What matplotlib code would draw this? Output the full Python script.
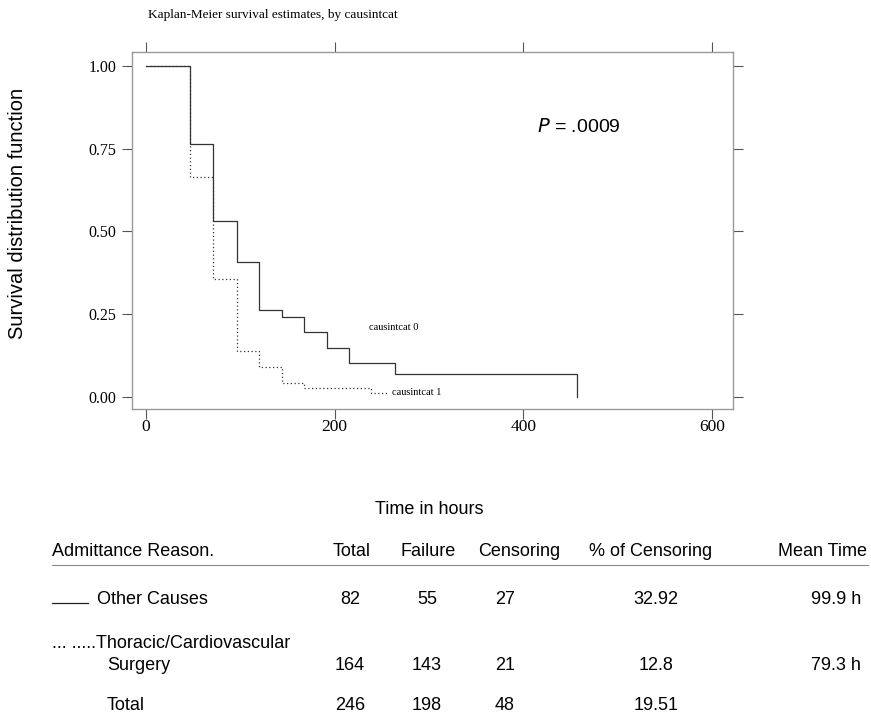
import matplotlib.pyplot as plt
from matplotlib.lines import Line2D

# Kaplan-Meier step curves
t_other = [0, 47, 71, 96, 120, 144, 167.5, 192, 215, 264, 456.5]
s_other = [1.00, 0.764, 0.532, 0.408, 0.263, 0.241, 0.197, 0.149, 0.102, 0.069, 0.0]
t_thor = [0, 47, 71, 96, 120, 144, 167.5, 238, 258]
s_thor = [1.00, 0.666, 0.356, 0.140, 0.092, 0.044, 0.026, 0.013, 0.013]

x_ticks = [0, 200, 400, 600]
y_ticks = [0.0, 0.25, 0.5, 0.75, 1.0]
y_labels = ["0.00", "0.25", "0.50", "0.75", "1.00"]

# summary table
headers = ["Admittance Reason.", "Total", "Failure", "Censoring", "% of Censoring", "Mean Time"]
row_total = ["82", "164", "246"]
row_failure = ["55", "143", "198"]
row_censor = ["27", "21", "48"]
row_pct = ["32.92", "12.8", "19.51"]
row_mean = ["99.9 h", "79.3 h", ""]

W, H = 871, 713
fig = plt.figure(figsize=(W / 100, H / 100), dpi=100)
ax = fig.add_axes([132 / W, 1 - 409 / H, (733 - 132) / W, (409 - 52) / H])

line_col = "#333333"
ax.step(t_other, s_other, where="post", color=line_col, lw=0.9)
ax.step(t_thor, s_thor, where="post", color=line_col, lw=0.9, linestyle=(0, (1, 2)))

ax.set_xlim(-14.8, 622)
ax.set_ylim(-0.036, 1.042)

serif = "Liberation Serif"
sans = "Liberation Sans"

ax.set_xticks(x_ticks)
ax.set_xticklabels([str(v) for v in x_ticks], fontfamily=serif, fontsize=12.5)
ax.set_yticks(y_ticks)
ax.set_yticklabels(y_labels, fontfamily=serif, fontsize=11.5)
ax.tick_params(direction="out", length=7, width=0.8, color="#555555",
               top=True, right=True, labeltop=False, labelright=False)
ax.tick_params(axis="x", pad=0)
ax.tick_params(axis="y", pad=4)
for sp in ax.spines.values():
    sp.set_color("#999999")
    sp.set_linewidth(1.0)

ax.text(236, 0.21, "causintcat 0", fontfamily=serif, fontsize=7.5, va="center")
ax.text(261, 0.013, "causintcat 1", fontfamily=serif, fontsize=7.5, va="center")
ax.text(414, 0.816, "$\\it{P}$ = .0009", fontfamily=sans, fontsize=14, va="center")

fig.text(148 / W, 1 - 15 / H, "Kaplan-Meier survival estimates, by causintcat",
         fontfamily=serif, fontsize=9.5, va="center", ha="left")
fig.text(18 / W, 1 - 213 / H, "Survival distribution function", fontfamily=sans,
         fontsize=14.5, rotation=90, va="center", ha="center")
fig.text(429 / W, 1 - 509 / H, "Time in hours", fontfamily=sans, fontsize=13,
         va="center", ha="center")

# table
tkw = dict(fontfamily=sans, fontsize=13, va="center")
hy = 1 - 552 / H
fig.text(52 / W, hy, headers[0], ha="left", **tkw)
fig.text(352 / W, hy, headers[1], ha="center", **tkw)
fig.text(428 / W, hy, headers[2], ha="center", **tkw)
fig.text(519 / W, hy, headers[3], ha="center", **tkw)
fig.text(651 / W, hy, headers[4], ha="center", **tkw)
fig.text(867 / W, hy, headers[5], ha="right", **tkw)
fig.add_artist(Line2D([52 / W, 868 / W], [1 - 565 / H] * 2, color="#888888", lw=0.8))

row_y = [599, 666, 705]
fig.add_artist(Line2D([52 / W, 88 / W], [1 - 603 / H] * 2, color="#222222", lw=0.9))
fig.text(97 / W, 1 - row_y[0] / H, "Other Causes", ha="left", **tkw)
fig.text(52 / W, 1 - 643 / H, "... .....Thoracic/Cardiovascular", ha="left", **tkw)
fig.text(107 / W, 1 - row_y[1] / H, "Surgery", ha="left", **tkw)
fig.text(107 / W, 1 - row_y[2] / H, "Total", ha="left", **tkw)
for i, y in enumerate(row_y):
    yy = 1 - y / H
    fig.text(350 / W, yy, row_total[i], ha="center", **tkw)
    fig.text(427 / W, yy, row_failure[i], ha="center", **tkw)
    fig.text(505 / W, yy, row_censor[i], ha="center", **tkw)
    fig.text(656 / W, yy, row_pct[i], ha="center", **tkw)
    fig.text(861 / W, yy, row_mean[i], ha="right", **tkw)

fig.savefig("out.png", dpi=100)
